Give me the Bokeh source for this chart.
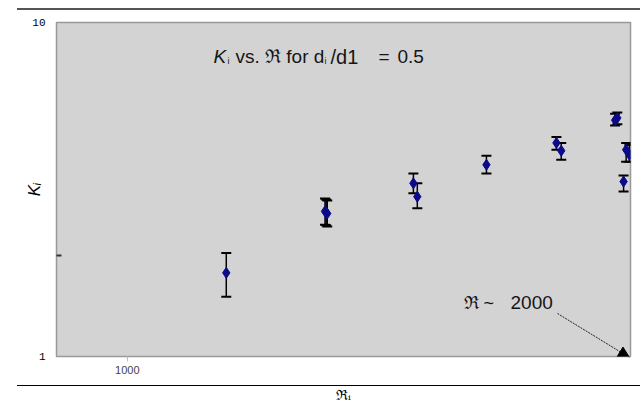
from bokeh.plotting import figure
from bokeh.models import (Range1d, FixedTicker, Label, Arrow, NormalHead,
                          ColumnDataSource, PrintfTickFormatter,
                          InlineStyleSheet)
from bokeh.embed import file_html
from bokeh.resources import INLINE

# ---- data ----
reynolds = [1146, 1313, 1315, 1317, 1483, 1491, 1640, 1806, 1818,
            1958, 1964, 1981, 1988, 1997]
k_value = [1.78, 2.72, 2.70, 2.68, 3.30, 3.01, 3.75, 4.36, 4.13,
           5.10, 5.18, 3.34, 4.16, 4.02]
k_low = [1.51, 2.48, 2.47, 2.45, 3.08, 2.78, 3.53, 4.16, 3.88,
         4.92, 4.96, 3.12, 3.83, 3.83]
k_high = [2.04, 2.97, 2.95, 2.93, 3.53, 3.30, 3.99, 4.54, 4.36,
          5.33, 5.38, 3.48, 4.36, 4.30]
y_ticks = [1, 10]
y_minor = [2]
x_ticks = [1000]

FONT = "Liberation Sans"
TXT = "#151515"

src = ColumnDataSource(dict(x=reynolds, y=k_value, lo=k_low, hi=k_high))

rules = InlineStyleSheet(css="""
:host::after { content: ""; position: absolute; left: 17px; width: 623px;
  top: 8px; height: 375px; box-sizing: content-box; background: transparent;
  border-top: 2px solid #555555; border-bottom: 1.5px solid #000000;
  z-index: 50; pointer-events: none; }
""")

p = figure(width=632, height=405, output_backend="svg", toolbar_location=None,
           x_axis_type="log", y_axis_type="log",
           x_range=Range1d(907, 2000), y_range=Range1d(1, 10),
           min_border_left=56, min_border_right=2, min_border_top=22,
           min_border_bottom=48, stylesheets=[rules])
p.background_fill_color = "#d3d3d3"
p.border_fill_color = "white"
p.outline_line_color = "#999999"
p.outline_line_width = 1.5
p.grid.visible = False

# axes
p.yaxis.ticker = FixedTicker(ticks=y_ticks, minor_ticks=y_minor)
p.xaxis.ticker = FixedTicker(ticks=x_ticks, minor_ticks=[])
p.yaxis.formatter = PrintfTickFormatter(format="%d")
p.xaxis.formatter = PrintfTickFormatter(format="%d")
for ax in (p.xaxis, p.yaxis):
    ax.axis_line_color = None
p.yaxis.major_tick_in = 0
p.yaxis.major_tick_out = 0
p.yaxis.minor_tick_in = 5
p.yaxis.minor_tick_out = 0
p.yaxis.minor_tick_line_color = "#333333"
p.yaxis.minor_tick_line_width = 2
p.yaxis.major_label_text_font = "Liberation Mono"
p.yaxis.major_label_text_font_size = "11px"
p.yaxis.major_label_text_color = "black"
p.yaxis.major_label_standoff = 11
p.yaxis.axis_label = "Kᵢ"
p.yaxis.axis_label_text_font = FONT
p.yaxis.axis_label_text_font_style = "italic"
p.yaxis.axis_label_text_font_size = "17px"
p.yaxis.axis_label_text_color = "black"
p.yaxis.axis_label_standoff = -15

p.xaxis.major_tick_in = 0
p.xaxis.major_tick_out = 5
p.xaxis.major_tick_line_color = "#bbbbbb"
p.xaxis.minor_tick_line_color = None
p.xaxis.major_label_text_font = FONT
p.xaxis.major_label_text_font_size = "11px"
p.xaxis.major_label_text_color = "#444444"
p.xaxis.major_label_standoff = 4
p.xaxis.axis_label = "ℜᵢ"
p.xaxis.axis_label_text_font = "DejaVu Serif"
p.xaxis.axis_label_text_font_style = "normal"
p.xaxis.axis_label_text_font_size = "14px"
p.xaxis.axis_label_text_color = "black"
p.xaxis.axis_label_standoff = 10

# error bars
p.segment(x0="x", y0="lo", x1="x", y1="hi", source=src,
          line_color="black", line_width=1.5)
p.scatter(x="x", y="lo", source=src, marker="dash", size=10,
          line_color="black", line_width=2)
p.scatter(x="x", y="hi", source=src, marker="dash", size=10,
          line_color="black", line_width=2)
# points
p.scatter(x="x", y="y", source=src, marker="diamond", size=11,
          fill_color="#0b0b8a", line_color="#0b0b8a")


def lab(text, x, y, size="19px", style="normal", font=FONT):
    p.add_layout(Label(x=x, y=y, x_units="screen", y_units="screen",
                       text=text, text_font=font, text_font_style=style,
                       text_font_size=size, text_baseline="alphabetic",
                       text_color=TXT))


# title inside plot (screen units: from frame left / frame bottom)
lab("K", 157, 300, style="italic")
lab("i", 171, 296, size="9px")
lab("vs. ℜ for d", 179, 300)
lab("i", 268, 296, size="9px")
lab("/d1", 274, 300, size="20px")
lab("=", 322, 300)
lab("0.5", 341, 300)

# annotation arrow
lab("ℜ ~", 407, 54, size="18px")
lab("2000", 454, 54)
p.add_layout(Arrow(x_start=501, y_start=43, x_end=573, y_end=-1,
                   start_units="screen", end_units="screen",
                   line_color="#222222", line_width=1, line_dash="2 1",
                   end=NormalHead(size=11, fill_color="black",
                                  line_color="black")))

open("out.html", "w").write(file_html(p, INLINE))
